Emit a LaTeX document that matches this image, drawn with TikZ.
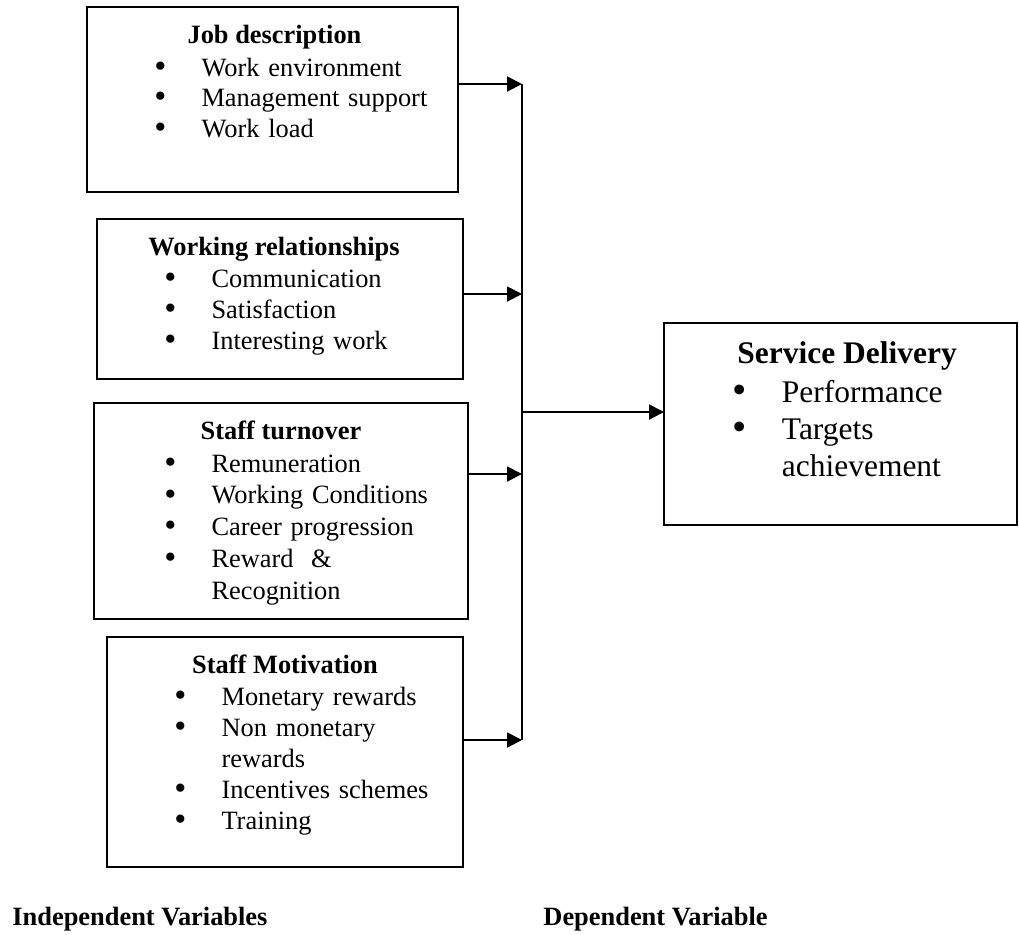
\documentclass[tikz,border=0pt]{standalone}
\usepackage{fontspec}
\setmainfont{Liberation Serif}
\usetikzlibrary{arrows.meta,positioning,calc}
\newcommand\pxl{0.4545pt}
\newlength\bltw
\newcommand\blt[1]{\makebox[\bltw][l]{\raisebox{-0.5pt}{\scalebox{1.3}{\textbullet}}}#1}
\newcommand\cnt[1]{\hspace*{\bltw}#1}

\begin{document}
\begin{tikzpicture}[
  x=0.4545pt, y=-0.4545pt,
  frame/.style = {rectangle, draw=black, line width=0.8pt, inner sep=0pt, outer sep=0pt,
                  anchor=north west},
  ttl/.style   = {font=\fontsize{12}{14}\selectfont\bfseries, inner sep=0pt, anchor=base},
  lst/.style   = {font=\fontsize{12}{#1}\selectfont\setlength\bltw{21.4pt}, inner sep=0pt,
                  anchor=base west, align=left, text width=330*\pxl},
  lst/.default = 14pt,
  arr/.style   = {-{Triangle[length=6.8pt, width=6.8pt]}, line width=0.9pt},
  bus/.style   = {line width=0.9pt},
  lbl/.style   = {font=\fontsize{12}{14}\selectfont\bfseries, inner sep=0pt, anchor=base west},
]
\useasboundingbox (0,0) rectangle (1019,934);

\node[frame, minimum width=371*\pxl, minimum height=185*\pxl] (job)  at (87,7)   {};
\node[frame, minimum width=366*\pxl, minimum height=160*\pxl] (rel)  at (97,219) {};
\node[frame, minimum width=374*\pxl, minimum height=216*\pxl] (turn) at (94,403) {};
\node[frame, minimum width=356*\pxl, minimum height=230*\pxl] (motiv) at (107,637) {};
\node[frame, minimum width=353*\pxl, minimum height=202*\pxl] (serv) at (664,323) {};

\node[ttl] (jobttl) at ([xshift=2*\pxl, yshift=-36*\pxl]job.north) {Job description};
\node[lst=13.9pt] (joblst) at ([xshift=67*\pxl, yshift=-69*\pxl]job.north west)
  {\blt{Work environment}\\\blt{Management support}\\\blt{Work load}};

\node[ttl] (relttl) at ([xshift=-6*\pxl, yshift=-36*\pxl]rel.north) {Working relationships};
\node[lst=14.1pt] (rellst) at ([xshift=67*\pxl, yshift=-68*\pxl]rel.north west)
  {\blt{Communication}\\\blt{Satisfaction}\\\blt{Interesting work}};

\node[ttl] (turnttl) at ([yshift=-36*\pxl]turn.north) {Staff turnover};
\node[lst=14.5pt] (turnlst) at ([xshift=70*\pxl, yshift=-69*\pxl]turn.north west)
  {\blt{Remuneration}\\\blt{Working Conditions}\\\blt{Career progression}\\
   \blt{Reward~ \&}\\\cnt{Recognition}};

\node[ttl] (motivttl) at ([yshift=-36*\pxl]motiv.north) {Staff Motivation};
\node[lst=14.1pt] (motivlst) at ([xshift=67*\pxl, yshift=-68*\pxl]motiv.north west)
  {\blt{Monetary rewards}\\\blt{Non monetary}\\\cnt{rewards}\\
   \blt{Incentives schemes}\\\blt{Training}};

\node[ttl, anchor=base west, font=\fontsize{14.3}{17}\selectfont\bfseries] (servttl)
  at ([xshift=73*\pxl, yshift=-40*\pxl]serv.north west) {Service Delivery};
\node[lst=17pt, font=\fontsize{14.3}{17}\selectfont\setlength\bltw{22.5pt}] (servlst)
  at ([xshift=68*\pxl, yshift=-79*\pxl]serv.north west)
  {\blt{Performance}\\\blt{Targets}\\\cnt{achievement}};

\coordinate (bus1) at (522,84);
\coordinate (bus2) at (522,294);
\coordinate (bus3) at (522,474);
\coordinate (bus4) at (522,740);
\coordinate (busm) at (522,412);

\draw[bus] (bus1) -- (bus4);
\draw[arr] (job.east |- bus1)   -- (bus1);
\draw[arr] (rel.east |- bus2)   -- (bus2);
\draw[arr] (turn.east |- bus3)  -- (bus3);
\draw[arr] (motiv.east |- bus4) -- (bus4);
\draw[arr] (busm) -- (serv.west |- busm);

\node[lbl] (indep) at (12,925)  {Independent Variables};
\node[lbl] (dep)   at (543,925) {Dependent Variable};
\end{tikzpicture}
\end{document}
